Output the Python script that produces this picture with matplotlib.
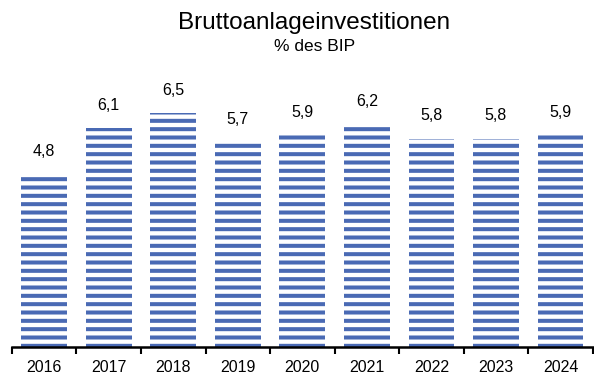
import matplotlib.pyplot as plt

years = ["2016", "2017", "2018", "2019", "2020", "2021", "2022", "2023", "2024"]
values = [4.8, 6.1, 6.5, 5.7, 5.9, 6.2, 5.8, 5.8, 5.9]
labels = ["4,8", "6,1", "6,5", "5,7", "5,9", "6,2", "5,8", "5,8", "5,9"]

blue = "#4a6ab4"

plt.rcParams["font.family"] = ["Liberation Sans", "DejaVu Sans"]
plt.rcParams["hatch.color"] = blue
plt.rcParams["hatch.linewidth"] = 2.9

fig = plt.figure(figsize=(5.94, 3.81), dpi=100)
ax = fig.add_axes([0.02, 0.089, 0.978, 0.70])

x = range(len(years))
bars = ax.bar(x, values, width=0.71, color="white", edgecolor=blue,
              linewidth=0, hatch="--")

# value labels above each bar
for xi, v, lab in zip(x, values, labels):
    ax.annotate(lab, (xi, v), xytext=(0, 11), textcoords="offset points",
                ha="center", va="bottom", fontsize=11.5)

ax.set_xlim(-0.5, len(years) - 0.5)
ax.set_ylim(0, 7.42)
ax.set_xticks([i - 0.5 for i in range(len(years) + 1)])
ax.set_xticklabels([])
ax.set_xticks(list(x), minor=True)
ax.set_xticklabels(years, minor=True, fontsize=11.5)
ax.tick_params(axis="x", which="major", direction="out", length=5, width=1.5)
ax.tick_params(axis="x", which="minor", length=0, pad=9)
ax.set_yticks([])
for side in ["top", "right", "left"]:
    ax.spines[side].set_visible(False)
ax.spines["bottom"].set_linewidth(1.8)

fig.text(0.529, 0.94, "Bruttoanlageinvestitionen", ha="center", va="center", fontsize=17.5)
fig.text(0.529, 0.877, "% des BIP", ha="center", va="center", fontsize=12.5)

fig.savefig("out.png", dpi=100)
